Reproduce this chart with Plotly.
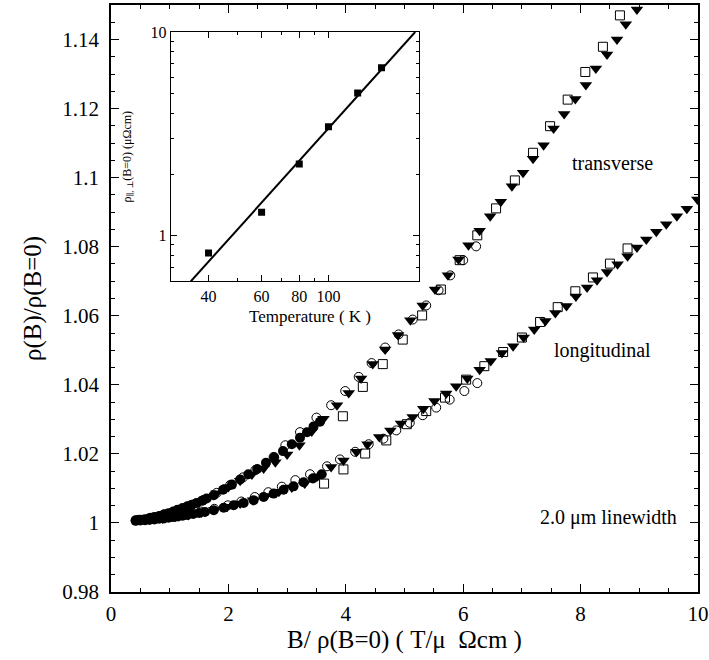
import plotly.graph_objects as go

# ---------------- main panel data ----------------
# filled circles
fc_tr_x = [0.42, 0.50, 0.58, 0.66, 0.74, 0.82, 0.90, 0.98, 1.06, 1.14, 1.22, 1.30, 1.38, 1.46, 1.55, 1.63,
           1.75, 1.91, 2.06, 2.20, 2.34, 2.49, 2.64, 2.78, 2.93, 3.08, 3.22, 3.34, 3.45, 3.56]
fc_tr_y = [1.0008, 1.0009, 1.0011, 1.0014, 1.0017, 1.0020, 1.0024, 1.0028, 1.0033, 1.0038, 1.0043, 1.0048,
           1.0053, 1.0058, 1.0064, 1.0071, 1.0080, 1.0096, 1.0111, 1.0126, 1.0141, 1.0156, 1.0174, 1.0190,
           1.0208, 1.0228, 1.0247, 1.0263, 1.0279, 1.0293]
fc_lo_x = [0.42, 0.50, 0.58, 0.66, 0.74, 0.82, 0.90, 0.98, 1.06, 1.14, 1.22, 1.30, 1.40, 1.50, 1.60, 1.75,
           1.92, 2.09, 2.26, 2.43, 2.60, 2.77, 2.94, 3.11, 3.28, 3.44, 3.59]
fc_lo_y = [1.0006, 1.0007, 1.0008, 1.0009, 1.0010, 1.0012, 1.0013, 1.0015, 1.0017, 1.0019, 1.0021, 1.0023,
           1.0026, 1.0029, 1.0032, 1.0037, 1.0044, 1.0051, 1.0058, 1.0066, 1.0075, 1.0085, 1.0096, 1.0106,
           1.0118, 1.0129, 1.0141]

# open circles
oc_tr_x = [6.22, 6.00, 5.78, 5.58, 5.37, 5.14, 4.90, 4.67, 4.44, 4.22, 3.99, 3.75, 3.50, 3.22, 2.97, 2.77,
           2.46, 2.25, 2.03, 1.80, 1.58, 1.35, 1.12, 0.90, 0.68, 0.46]
oc_tr_y = [1.0801, 1.0761, 1.0717, 1.0674, 1.0630, 1.0589, 1.0546, 1.0508, 1.0463, 1.0423, 1.0382, 1.0341,
           1.0305, 1.0263, 1.0225, 1.0191, 1.0153, 1.0132, 1.0110, 1.0087, 1.0067, 1.0050, 1.0037, 1.0025,
           1.0015, 1.0009]
oc_lo_x = [6.24, 6.02, 5.77, 5.54, 5.31, 5.09, 4.86, 4.64, 4.39, 4.16, 3.90, 3.68, 3.39, 3.14, 2.91, 2.68,
           2.45, 2.22, 1.99, 1.76, 1.53, 1.30, 1.07, 0.84, 0.61]
oc_lo_y = [1.0405, 1.0382, 1.0357, 1.0334, 1.0312, 1.0290, 1.0268, 1.0244, 1.0228, 1.0206, 1.0184, 1.0164,
           1.0141, 1.0124, 1.0105, 1.0089, 1.0075, 1.0062, 1.0051, 1.0041, 1.0033, 1.0026, 1.0019, 1.0014,
           1.0010]

# open squares
sq_tr_x = [8.67, 8.38, 8.08, 7.78, 7.48, 7.19, 6.88, 6.56, 6.24, 5.94, 5.62, 5.30, 4.97, 4.63, 4.29, 3.95]
sq_tr_y = [1.1470, 1.1379, 1.1306, 1.1226, 1.1149, 1.1072, 1.0992, 1.0911, 1.0833, 1.0761, 1.0676, 1.0601,
           1.0531, 1.0460, 1.0394, 1.0309]
sq_lo_x = [8.80, 8.50, 8.21, 7.91, 7.61, 7.31, 7.00, 6.68, 6.36, 6.05, 5.69, 5.37, 5.04, 4.69, 4.33, 3.96, 3.63]
sq_lo_y = [1.0795, 1.0751, 1.0711, 1.0671, 1.0625, 1.0582, 1.0537, 1.0495, 1.0454, 1.0415, 1.0363, 1.0324,
           1.0286, 1.0239, 1.0201, 1.0155, 1.0114]

# filled down-triangles
tri_tr_x = [8.96, 8.77, 8.62, 8.45, 8.26, 8.09, 7.91, 7.72, 7.54, 7.37, 7.19, 7.02, 6.83, 6.64, 6.46, 6.28,
            6.09, 5.92, 5.74, 5.52, 5.31, 5.10, 4.89, 4.67, 4.46, 4.26, 4.05, 3.85, 3.62, 3.42, 3.21, 3.00,
            2.80, 2.60, 2.40, 2.20, 2.00, 1.80, 1.60, 1.40, 1.20, 1.00, 0.80, 0.60]
tri_tr_y = [1.1487, 1.1444, 1.1400, 1.1357, 1.1316, 1.1268, 1.1228, 1.1184, 1.1142, 1.1094, 1.1055, 1.1014,
            1.0975, 1.0930, 1.0888, 1.0846, 1.0804, 1.0763, 1.0717, 1.0676, 1.0630, 1.0587, 1.0544, 1.0502,
            1.0460, 1.0418, 1.0376, 1.0341, 1.0302, 1.0265, 1.0225, 1.0198, 1.0176, 1.0158, 1.0140, 1.0122,
            1.0104, 1.0086, 1.0068, 1.0053, 1.0042, 1.0031, 1.0020, 1.0012]
tri_lo_x = [9.99, 9.81, 9.64, 9.46, 9.29, 9.12, 8.96, 8.80, 8.63, 8.45, 8.28, 8.11, 7.92, 7.76, 7.57, 7.40,
            7.21, 7.03, 6.85, 6.66, 6.47, 6.28, 6.07, 5.88, 5.71, 5.51, 5.32, 5.14, 4.94, 4.76, 4.57, 4.37,
            4.18, 3.96, 3.75, 3.52, 3.30, 3.08, 2.86, 2.64, 2.42, 2.20, 1.98, 1.76, 1.54, 1.32, 1.10, 0.88,
            0.66]
tri_lo_y = [1.0937, 1.0910, 1.0888, 1.0865, 1.0843, 1.0821, 1.0798, 1.0772, 1.0749, 1.0727, 1.0703, 1.0682,
            1.0656, 1.0628, 1.0608, 1.0585, 1.0560, 1.0537, 1.0512, 1.0492, 1.0469, 1.0444, 1.0418, 1.0396,
            1.0375, 1.0353, 1.0331, 1.0307, 1.0288, 1.0268, 1.0249, 1.0228, 1.0206, 1.0181, 1.0162, 1.0135,
            1.0114, 1.0103, 1.0090, 1.0078, 1.0066, 1.0056, 1.0047, 1.0038, 1.0030, 1.0023, 1.0018, 1.0013,
            1.0009]

y_tickvals = [0.98, 1.00, 1.02, 1.04, 1.06, 1.08, 1.10, 1.12, 1.14]
y_ticktext = ["0.98", "1", "1.02", "1.04", "1.06", "1.08", "1.1", "1.12", "1.14"]
x_tickvals = [0, 2, 4, 6, 8, 10]

# ---------------- inset data ----------------
inset_T = [40, 60, 80, 100, 125, 150]
inset_rho = [0.82, 1.30, 2.25, 3.42, 5.02, 6.67]
fit_T = [34.9, 194]
fit_rho = [0.595, 10]
inset_x_tickvals = [40, 60, 80, 100]
inset_x_minor = [50, 70, 90, 200]
inset_y_tickvals = [1, 10]
inset_y_minor = [0.6, 0.7, 0.8, 0.9, 2, 3, 4, 5, 6, 7, 8, 9]

FONT = "'Liberation Serif', 'Times New Roman', 'DejaVu Serif', serif"

fig = go.Figure()

def add(x, y, symbol, size, filled, xa="x", ya="y"):
    if filled:
        marker = dict(symbol=symbol, size=size, color="black", line=dict(width=0))
    else:
        marker = dict(symbol=symbol, size=size, color="black", line=dict(width=1, color="black"))
    fig.add_trace(go.Scatter(x=x, y=y, mode="markers", marker=marker, xaxis=xa, yaxis=ya,
                             showlegend=False, hoverinfo="skip"))

add(sq_tr_x, sq_tr_y, "square-open", 9, False)
add(sq_lo_x, sq_lo_y, "square-open", 9, False)
add(oc_tr_x, oc_tr_y, "circle-open", 9, False)
add(oc_lo_x, oc_lo_y, "circle-open", 9, False)
add(tri_tr_x, tri_tr_y, "triangle-down", 11, True)
add(tri_lo_x, tri_lo_y, "triangle-down", 11, True)
add(fc_tr_x, fc_tr_y, "circle", 10, True)
add(fc_lo_x, fc_lo_y, "circle", 10, True)

# inset
fig.add_trace(go.Scatter(x=fit_T, y=fit_rho, mode="lines", line=dict(color="black", width=2),
                         xaxis="x2", yaxis="y2", showlegend=False, hoverinfo="skip"))
fig.add_trace(go.Scatter(x=inset_T, y=inset_rho, mode="markers",
                         marker=dict(symbol="square", size=7, color="black"),
                         xaxis="x2", yaxis="y2", showlegend=False, hoverinfo="skip"))

axis_common = dict(showline=True, linecolor="black", linewidth=1.5, mirror="allticks",
                   ticks="inside", tickcolor="black", showgrid=False, zeroline=False,
                   automargin=False)

fig.update_layout(
    width=709, height=660,
    margin=dict(l=111, r=11, t=5, b=68, autoexpand=False),
    paper_bgcolor="white", plot_bgcolor="white",
    font=dict(family=FONT, color="black"),
    xaxis=dict(range=[0, 10], tickvals=x_tickvals, ticklen=8, tickwidth=1,
               tickfont=dict(size=21, family=FONT), ticklabelstandoff=2,
               minor=dict(dtick=0.5, tick0=0, ticklen=4, ticks="inside", tickcolor="black"),
               title=dict(text="B/ ρ(B=0) ( T/μ  Ωcm )", font=dict(size=25, family=FONT), standoff=0),
               **axis_common),
    yaxis=dict(range=[0.98, 1.15], tickvals=y_tickvals, ticktext=y_ticktext, ticklen=8, tickwidth=1,
               tickfont=dict(size=21, family=FONT), ticklabelstandoff=6,
               minor=dict(dtick=0.005, tick0=0.98, ticklen=4, ticks="inside", tickcolor="black"),
               title=dict(text="ρ(B)/ρ(B=0)", font=dict(size=25, family=FONT), standoff=14),
               **axis_common),
    xaxis2=dict(type="log", domain=[0.102, 0.525], anchor="y2",
                range=[1.4771, 2.3010], tickvals=inset_x_tickvals, ticktext=[str(v) for v in inset_x_tickvals],
                ticklen=6, tickwidth=1, tickfont=dict(size=16, family=FONT),
                minor=dict(tickvals=inset_x_minor, ticklen=3, ticks="inside", tickcolor="black"),
                showline=True, linecolor="black", linewidth=1.2, mirror="allticks", automargin=False,
                ticks="inside", tickcolor="black", showgrid=False, zeroline=False),
    yaxis2=dict(type="log", domain=[0.529, 0.954], anchor="x2",
                range=[-0.2255, 1.0], tickvals=inset_y_tickvals, ticktext=["1", "10"],
                ticklen=6, tickwidth=1, tickfont=dict(size=16, family=FONT),
                minor=dict(tickvals=inset_y_minor, ticklen=3, ticks="inside", tickcolor="black"),
                title=dict(text="ρ<sub>∥, ⊥</sub>(B=0) (μΩcm)", font=dict(size=12, family=FONT), standoff=16),
                showline=True, linecolor="black", linewidth=1.2, mirror="allticks", automargin=False,
                ticks="inside", tickcolor="black", showgrid=False, zeroline=False),
    annotations=[
        dict(text="Temperature ( K )", x=(310 - 111) / 587.3, y=(592 - 316) / 587, xref="paper", yref="paper",
             showarrow=False, font=dict(size=17, family=FONT)),
        dict(text="transverse", x=8.55, y=1.1041, xref="x", yref="y", showarrow=False,
             font=dict(size=20, family=FONT)),
        dict(text="longitudinal", x=8.38, y=1.0500, xref="x", yref="y", showarrow=False,
             font=dict(size=20, family=FONT)),
        dict(text="2.0 μm linewidth", x=8.48, y=1.0016, xref="x", yref="y", showarrow=False,
             font=dict(size=20, family=FONT)),
    ],
)

fig.write_html("out.html", config={"displayModeBar": False},
               post_script="document.body.style.margin='0';document.body.style.padding='0';")
